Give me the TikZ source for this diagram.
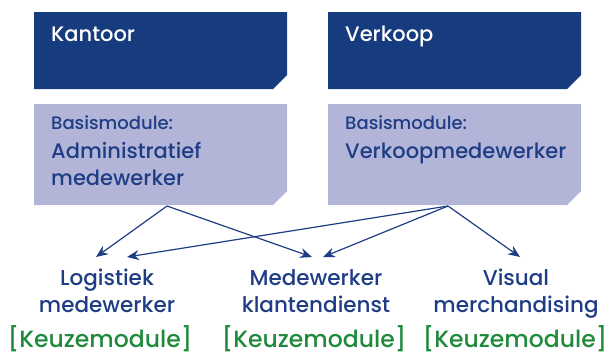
\documentclass[tikz,border=0pt]{standalone}
\usepackage{fontspec}
\setmainfont{Poppins}[UprightFont=* Medium]
\usepackage{tikz}
\usetikzlibrary{arrows.meta}
\definecolor{donkerblauw}{RGB}{23,59,127}
\definecolor{lichtpaars}{RGB}{179,181,216}
\definecolor{tekstblauw}{RGB}{30,61,133}
\definecolor{keuzegroen}{RGB}{31,138,59}
\newcommand{\linksregels}[2]{\vtop{\hbox{#1}\hbox{#2}}}
\newcommand{\middenregels}[2]{\vtop{\halign{\hfil##\hfil\cr#1\cr#2\cr}}}
\tikzset{
  richting/.style={font={\fontsize{21}{27}\selectfont}, text=white, inner sep=0pt, anchor=base west},
  basiskop/.style={font={\fontsize{18}{27}\selectfont}, text=tekstblauw, inner sep=0pt, anchor=base west},
  basisnaam/.style={font={\fontsize{21}{27}\selectfont}, text=tekstblauw, inner sep=0pt, anchor=base west},
  keuzenaam/.style={font={\fontsize{21.5}{27}\selectfont}, text=tekstblauw, inner sep=0pt, anchor=base},
  keuzelabel/.style={font={\fontsize{23.5}{27}\selectfont}, text=keuzegroen, inner sep=0pt, anchor=base},
  pijl/.style={draw=tekstblauw, line width=1.2pt, -{Stealth[length=12pt,width=10pt,inset=4pt]}}}

\begin{document}
\begin{tikzpicture}[x=1pt,y=-1pt]
\useasboundingbox (0,0) rectangle (609,356);
% boxes with cut corner
\fill [donkerblauw] (34,12) -- (287,12) -- (287,75) -- (273,89) -- (34,89) -- cycle;
\fill [donkerblauw] (328,12) -- (581,12) -- (581,75) -- (567,89) -- (328,89) -- cycle;
\fill [lichtpaars] (34,104) -- (287,104) -- (287,191) -- (273,205) -- (34,205) -- cycle;
\fill [lichtpaars] (328,104) -- (581,104) -- (581,191) -- (567,205) -- (328,205) -- cycle;
\node [richting] (kantoor) at (51,41) {Kantoor};
\node [richting] (verkoop) at (345,41) {Verkoop};
\node [basiskop] (kbasis) at (51,129) {Basismodule:};
\node [basisnaam] (admin) at (51,158) {\linksregels{Administratief}{medewerker}};
\node [basiskop] (vbasis) at (345,129) {Basismodule:};
\node [basisnaam] (verkoopmw) at (345,158) {Verkoopmedewerker};
% keuzemodules
\node [keuzenaam] (logistiek) at (107,285) {\middenregels{Logistiek}{medewerker}};
\node [keuzenaam] (klanten) at (316,285) {\middenregels{Medewerker}{klantendienst}};
\node [keuzenaam] (visual) at (516,285) {\middenregels{Visual}{merchandising}};
\node [keuzelabel] (klog) at (100,347) {[Keuzemodule]};
\node [keuzelabel] (kklant) at (314,347) {[Keuzemodule]};
\node [keuzelabel] (kvis) at (515,347) {[Keuzemodule]};
% arrows
\coordinate (kvan) at (167,206);
\coordinate (vvan) at (448,206);
\coordinate (log1) at (96,257);
\coordinate (log2) at (127,257);
\coordinate (kla1) at (312,257);
\coordinate (kla2) at (323,257);
\coordinate (vis1) at (520,257);
\draw [pijl] (kvan) -- (log1);
\draw [pijl] (kvan) -- (kla1);
\draw [pijl] (vvan) -- (log2);
\draw [pijl] (vvan) -- (kla2);
\draw [pijl] (vvan) -- (vis1);
\end{tikzpicture}
\end{document}
